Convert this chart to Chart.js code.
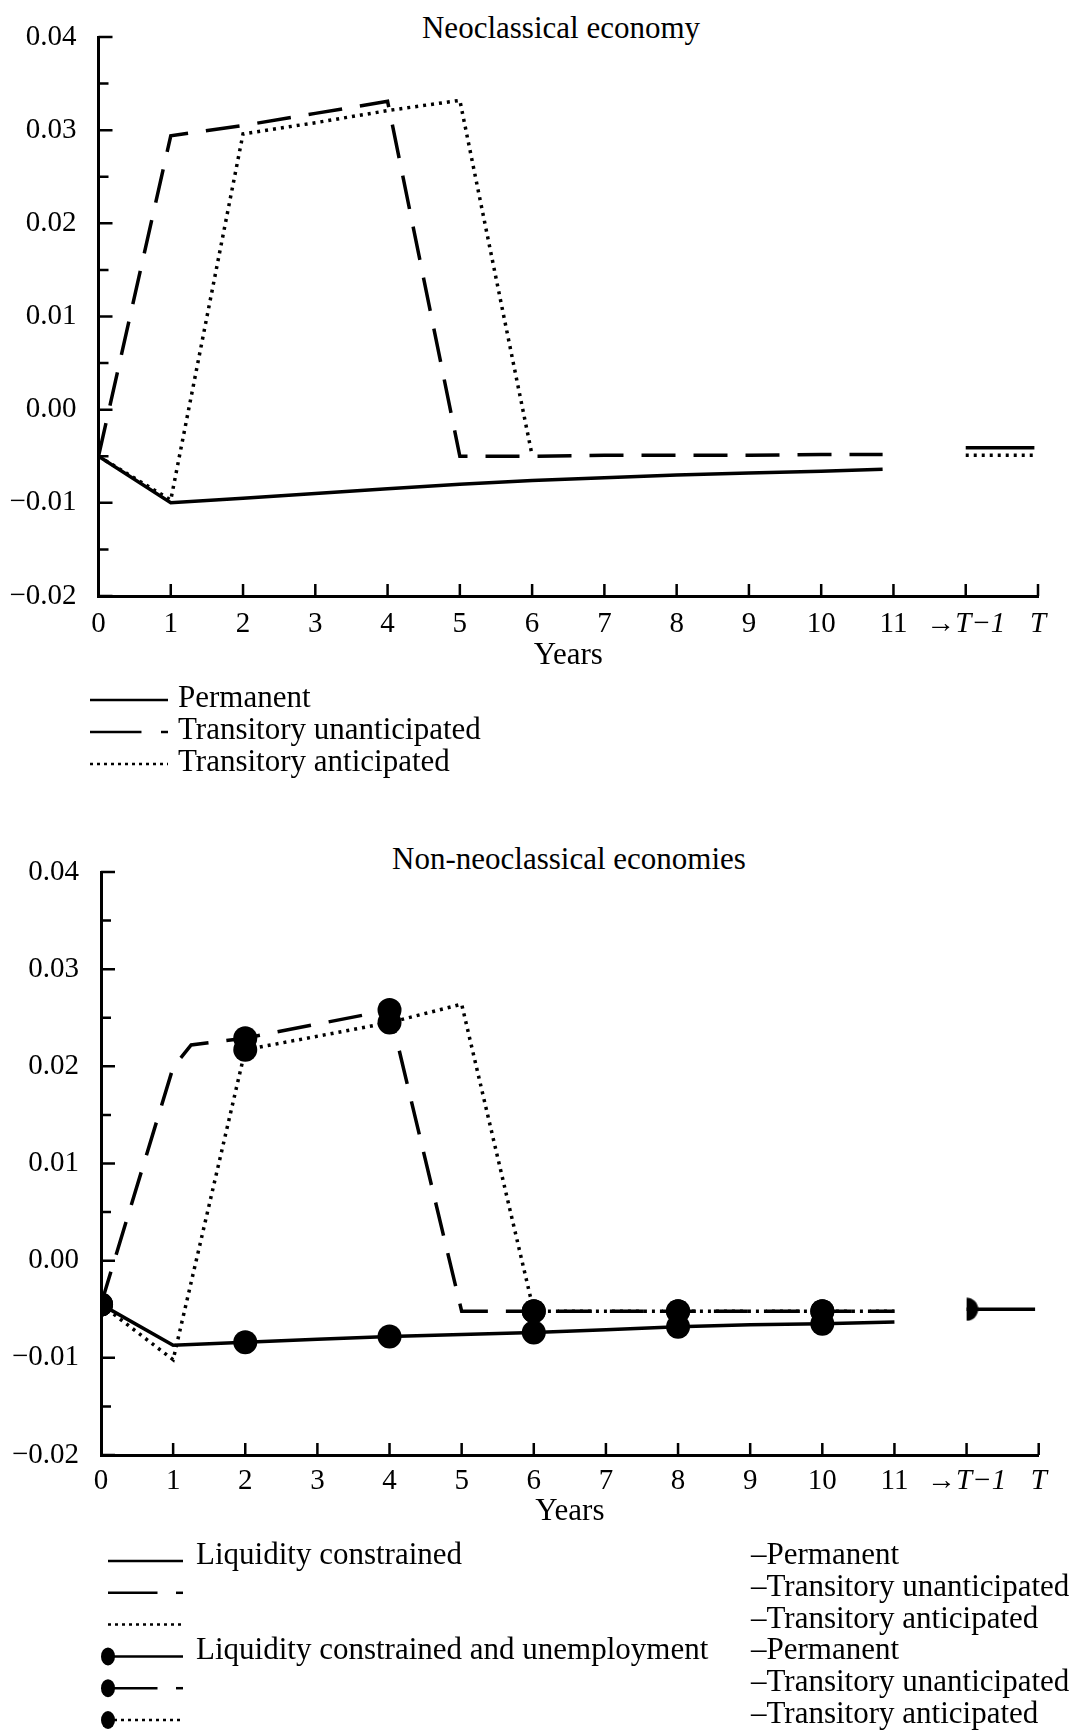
<!DOCTYPE html>
<html lang="en">
<head>
<meta charset="UTF-8">
<title>Neoclassical and non-neoclassical economies</title>
<script src="https://cdn.jsdelivr.net/npm/chart.js"></script>
<style>
  html, body { margin: 0; padding: 0; background: #fff; }
  body { width: 1092px; height: 1732px; position: relative; overflow: hidden;
         font-family: "Liberation Serif", "Times New Roman", serif; color: #000; }
  canvas { position: absolute; left: 0; }
  #neoChart { top: 0; }
  #nonChart { top: 800px; }
  .title { position: absolute; font-size: 31px; line-height: 1; white-space: nowrap; transform: translate(-50%, -50%); }
  .lg { position: absolute; font-size: 31px; line-height: 1; white-space: nowrap; }
  #keys { position: absolute; left: 0; top: 0; pointer-events: none; }
</style>
</head>
<body>
<div class="title" style="left:561px; top:27px;">Neoclassical economy</div>
<canvas id="neoChart" width="1092" height="680"></canvas>

<div class="title" style="left:569px; top:858px;">Non-neoclassical economies</div>
<canvas id="nonChart" width="1092" height="740"></canvas>

<svg id="keys" width="1092" height="1732"></svg>

<script>
// x positions 0..11 are years, 12 stands for T-1 and 13 for T
const xTickLabels = ['0', '1', '2', '3', '4', '5', '6', '7', '8', '9', '10', '11', '\u2192T\u22121', 'T'];

// Neoclassical economy
const neoYears = [0, 1, 2, 3, 4, 5, 6, 7, 8, 9, 10, 10.85];
const neoPermanent = [-0.0050, -0.0100, -0.0095, -0.0090, -0.0085, -0.0080, -0.0076, -0.0073, -0.0070, -0.0068, -0.0066, -0.0064];
const neoUnanticipated = [-0.0050, 0.0294, 0.0305, 0.0318, 0.0331, -0.0050, -0.0050, -0.0049, -0.0049, -0.0049, -0.0048, -0.0048];
const neoAnticipated = [-0.0050, -0.0097, 0.0296, 0.0308, 0.0321, 0.0332, -0.0049]; // ends at year 6
const neoTailYears = [12, 12.95];
const neoTailPermanent = [-0.0041, -0.0041];
const neoTailTransitory = [-0.0049, -0.0049];

// Non-neoclassical economies: liquidity constrained
const lcYears = [0, 1, 2, 3, 4, 5, 6, 7, 8, 9, 10, 11];
const lcPermanent = [-0.0045, -0.0087, -0.0084, -0.0081, -0.0078, -0.0076, -0.0074, -0.0071, -0.0068, -0.0066, -0.0065, -0.0063];
const lcUnantYears = [0, 1, 1.25, 2, 4, 5, 6, 8, 10, 11];
const lcUnanticipated = [-0.0045, 0.0199, 0.0222, 0.0229, 0.0258, -0.0052, -0.0052, -0.0052, -0.0052, -0.0052];
const lcAntYears = [0, 1, 2, 4, 5, 6, 8, 10, 11];
const lcAnticipated = [-0.0045, -0.0102, 0.0217, 0.0245, 0.0264, -0.0052, -0.0052, -0.0052, -0.0052];

// liquidity constrained and unemployment (dots)
const ucYears = [0, 2, 4, 6, 8, 10];
const ucPermanent = [-0.0045, -0.0084, -0.0078, -0.0074, -0.0068, -0.0065];
const ucUnanticipated = [-0.0045, 0.0229, 0.0258, -0.0052, -0.0052, -0.0052];
const ucAnticipated = [-0.0045, 0.0217, 0.0245, -0.0052, -0.0052, -0.0052];

const nonTailYears = [12, 12.95];
const nonTail = [-0.0050, -0.0050];
const ucTailYears = [12];
const ucTail = [-0.0050];

// legend texts
const neoLegendLabels = ['Permanent', 'Transitory unanticipated', 'Transitory anticipated'];
const nonLegendGroups = ['Liquidity constrained', '', '', 'Liquidity constrained and unemployment', '', ''];
const nonLegendShocks = ['\u2013Permanent', '\u2013Transitory unanticipated', '\u2013Transitory anticipated',
                         '\u2013Permanent', '\u2013Transitory unanticipated', '\u2013Transitory anticipated'];

const FONT = '"Liberation Serif", "Times New Roman", serif';
const SOLID = [];
const DASHED = [34, 18];
const DOTTED = [3, 5];

function pts(xs, ys) {
    return ys.map((y, i) => ({ x: xs[i], y: y }));
}

function lineSet(xs, ys, dash) {
    return { data: pts(xs, ys), borderColor: '#000', borderWidth: 3.5, borderDash: dash,
             borderCapStyle: 'butt', pointRadius: 0, tension: 0 };
}

function dotSet(xs, ys, style) {
    return { data: pts(xs, ys), showLine: false, pointRadius: 12, pointBackgroundColor: '#000',
             pointBorderWidth: 0, pointStyle: style || 'circle' };
}

function yTick(v) {
    const n = Math.round(v * 1000);
    if (n % 10 !== 0) return '';
    const s = Math.abs(v).toFixed(2);
    return n < 0 ? '\u2212' + s : s;
}

// half dot used at T-1 in the lower panel
const halfDot = document.createElement('canvas');
halfDot.width = 24;
halfDot.height = 24;
(function () {
    const c = halfDot.getContext('2d');
    c.fillStyle = '#000';
    c.beginPath();
    c.arc(12, 12, 11.5, -Math.PI / 2, Math.PI / 2);
    c.closePath();
    c.fill();
})();

// tick marks pointing into the plot
const innerTicks = {
    id: 'innerTicks',
    afterDraw(chart) {
        const { ctx, chartArea, scales: { x, y } } = chart;
        ctx.save();
        ctx.strokeStyle = '#000';
        ctx.lineWidth = 2.5;
        ctx.beginPath();
        y.ticks.forEach(t => {
            const py = y.getPixelForValue(t.value);
            const major = Math.round(t.value * 1000) % 10 === 0;
            ctx.moveTo(chartArea.left, py);
            ctx.lineTo(chartArea.left + (major ? 14 : 10), py);
        });
        x.ticks.forEach(t => {
            if (t.value === 0) return;
            const px = x.getPixelForValue(t.value);
            ctx.moveTo(px, chartArea.bottom);
            ctx.lineTo(px, chartArea.bottom - 12);
        });
        ctx.stroke();
        ctx.restore();
    }
};

function makeChart(id, datasets, o) {
    return new Chart(document.getElementById(id), {
        type: 'line',
        data: { datasets: datasets },
        options: {
            responsive: false,
            animation: false,
            events: [],
            layout: { padding: { top: o.top, right: o.right, left: 0, bottom: 0 } },
            plugins: { legend: { display: false }, tooltip: { enabled: false } },
            scales: {
                x: {
                    type: 'linear', min: 0, max: 13,
                    afterFit: s => { s.height = o.xHeight; },
                    grid: { display: false },
                    border: { display: true, color: '#000', width: 3 },
                    ticks: {
                        stepSize: 1, autoSkip: false, maxRotation: 0, padding: o.tickPad, color: '#000',
                        font: ctx => ({ family: FONT, size: 29,
                                        style: ctx.tick && ctx.tick.value >= 12 ? 'italic' : 'normal' }),
                        callback: v => xTickLabels[v] ?? ''
                    },
                    title: {
                        display: true, text: 'Years', color: '#000',
                        font: { family: FONT, size: 31 },
                        padding: { top: 0, bottom: o.titlePad }
                    }
                },
                y: {
                    min: -0.02, max: 0.04,
                    afterFit: s => { s.width = o.yWidth; },
                    grid: { display: false },
                    border: { display: true, color: '#000', width: 3 },
                    ticks: {
                        stepSize: 0.005, autoSkip: false, padding: 14, color: '#000',
                        font: { family: FONT, size: 29 },
                        callback: yTick
                    }
                }
            }
        },
        plugins: [innerTicks]
    });
}

makeChart('neoChart', [
    lineSet(neoYears, neoPermanent, SOLID),
    lineSet(neoYears, neoUnanticipated, DASHED),
    lineSet(neoYears, neoAnticipated, DOTTED),
    lineSet(neoTailYears, neoTailPermanent, SOLID),
    lineSet(neoTailYears, neoTailTransitory, DOTTED)
], { top: 37, right: 54, xHeight: 84, yWidth: 98.5, titlePad: 6, tickPad: 2.5 });

makeChart('nonChart', [
    lineSet(lcYears, lcPermanent, SOLID),
    lineSet(lcUnantYears, lcUnanticipated, DASHED),
    lineSet(lcAntYears, lcAnticipated, DOTTED),
    lineSet(nonTailYears, nonTail, SOLID),
    dotSet(ucYears, ucPermanent),
    dotSet(ucYears, ucUnanticipated),
    dotSet(ucYears, ucAnticipated),
    dotSet(ucTailYears, ucTail, halfDot)
], { top: 72, right: 53.3, xHeight: 85, yWidth: 101, titlePad: 10, tickPad: 0.5 });

// legends
const svg = document.getElementById('keys');
const NS = 'http://www.w3.org/2000/svg';

function seg(x1, x2, y, dash) {
    const l = document.createElementNS(NS, 'line');
    l.setAttribute('x1', x1); l.setAttribute('x2', x2);
    l.setAttribute('y1', y); l.setAttribute('y2', y);
    l.setAttribute('stroke', '#000');
    l.setAttribute('stroke-width', 2.5);
    if (dash) l.setAttribute('stroke-dasharray', dash);
    svg.appendChild(l);
}

function key(kind, x0, len, y, marker) {
    let start = x0;
    if (marker) {
        const e = document.createElementNS(NS, 'ellipse');
        e.setAttribute('cx', x0); e.setAttribute('cy', y);
        e.setAttribute('rx', 7); e.setAttribute('ry', 9);
        e.setAttribute('fill', '#000');
        svg.appendChild(e);
        start = x0 + 6;
    }
    const end = x0 + len;
    if (kind === 'solid') seg(start, end, y);
    if (kind === 'dashed') { seg(start, x0 + len * 0.66, y); seg(end - 7, end, y); }
    if (kind === 'dotted') seg(start, end, y, '3 4');
}

function text(str, x, y, shift) {
    if (!str) return;
    const d = document.createElement('div');
    d.className = 'lg';
    d.textContent = str;
    d.style.left = x + 'px';
    d.style.top = (y - 23 + shift) + 'px';
    document.body.appendChild(d);
}

const kinds = ['solid', 'dashed', 'dotted'];
neoLegendLabels.forEach((label, i) => {
    const y = 700 + i * 32;
    key(kinds[i], 90, 78, y, false);
    text(label, 178, y, 4);
});

nonLegendShocks.forEach((label, i) => {
    const y = 1561 + i * 31.8;
    key(kinds[i % 3], 108, 75, y, i >= 3);
    text(nonLegendGroups[i], 196, y, 0);
    text(label, 751, y, 0);
});
</script>
</body>
</html>
